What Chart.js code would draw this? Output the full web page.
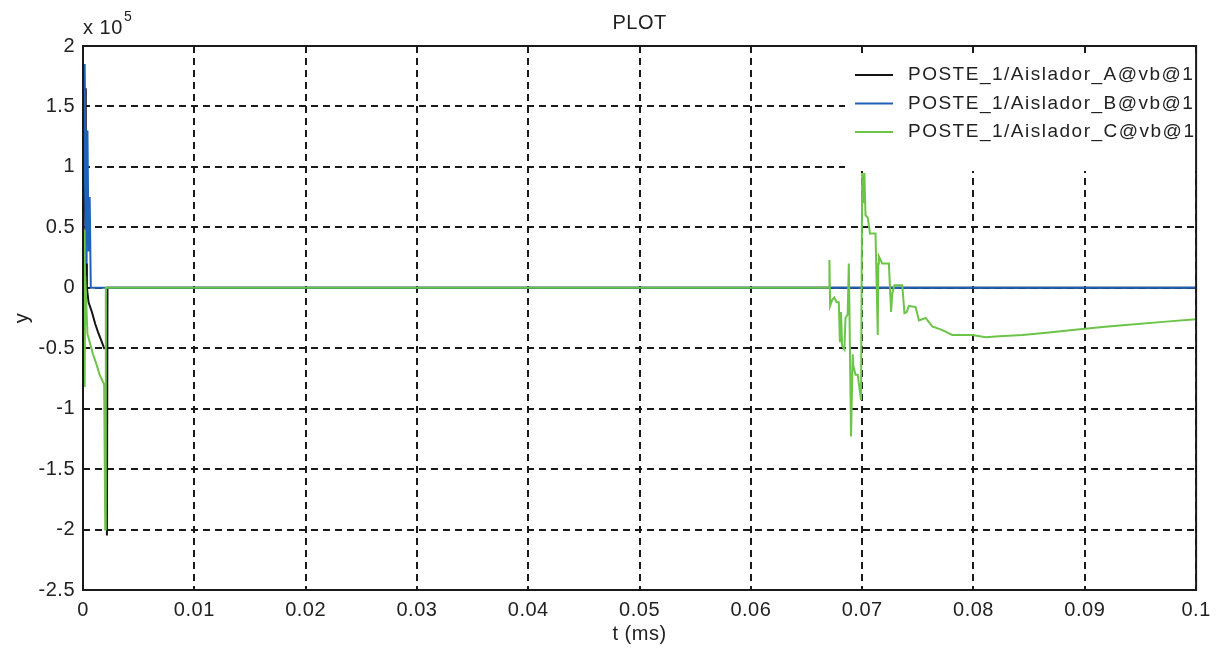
<!DOCTYPE html>
<html>
<head>
<meta charset="utf-8">
<script src="https://cdn.jsdelivr.net/npm/chart.js@4/dist/chart.umd.min.js"></script>
<style>
html, body { margin:0; padding:0; background:#fff; }
canvas { display:block; }
</style>
</head>
<body>
<canvas id="grafico" width="1218" height="655"></canvas>
<script>

/* ============================= */
/* DATOS */
/* ============================= */

const labelsSeries = ["POSTE_1/Aislador_A@vb@1", "POSTE_1/Aislador_B@vb@1", "POSTE_1/Aislador_C@vb@1"];
const coloresSeries = ["#141414", "#1f62b8", "#6cc448"];

const xTickLabels = ["0","0.01","0.02","0.03","0.04","0.05","0.06","0.07","0.08","0.09","0.1"];
const yTickLabels = ["-2.5","-2","-1.5","-1","-0.5","0","0.5","1","1.5","2"];

// serie A (x 10^5)
const tA = [0, 0.0001, 0.0002, 0.00025, 0.0003, 0.00035, 0.0005, 0.0008, 0.0011, 0.0014, 0.0017, 0.0019, 0.0021, 0.00215, 0.0022, 0.1];
const vA = [0, 0.8, 1.65, 0.75, 0.2, 0, -0.12, -0.2, -0.3, -0.38, -0.45, -0.5, -0.5, -2.05, 0, 0];

// serie B
const tB = [0, 0.00015, 0.0003, 0.0004, 0.0005, 0.0006, 0.0007, 0.1];
const vB = [0.2, 1.85, 0.2, 1.3, 0.3, 0.75, 0, 0];

// serie C
const tC = [0, 0.0001, 0.00015, 0.0002, 0.0004, 0.0006, 0.0009, 0.0012, 0.0015, 0.0019, 0.002, 0.00205,
  0.06705, 0.06706, 0.06712, 0.0673, 0.0675, 0.0677, 0.0679, 0.068, 0.0681, 0.0682, 0.0684, 0.0685, 0.0687,
  0.0688, 0.06885, 0.0689, 0.069, 0.06915, 0.0692, 0.0694, 0.0696, 0.0699, 0.07, 0.07015, 0.0702, 0.0703,
  0.0705, 0.0707, 0.0712, 0.0714, 0.07145, 0.0715, 0.0718, 0.0724, 0.0726, 0.0727, 0.0729, 0.0736, 0.0738,
  0.074, 0.0742, 0.0748, 0.0751, 0.0757, 0.0763, 0.0772, 0.0781, 0.0799, 0.0811, 0.0823, 0.0844, 0.0868,
  0.0889, 0.0916, 0.0934, 0.0973, 0.1];
const vC = [0.15, 0.48, -0.82, 0.1, -0.38, -0.45, -0.55, -0.63, -0.72, -0.8, -2.0, 0,
  0, 0.23, -0.15, -0.1, -0.08, -0.12, -0.12, -0.45, -0.2, -0.48, -0.51, -0.25, -0.22,
  0.2, -0.13, -0.13, -1.23, -0.55, -0.64, -0.72, -0.72, -0.93, 0.95, 0.7, 0.95, 0.6,
  0.58, 0.45, 0.45, -0.39, 0.2, 0.26, 0.2, 0.2, -0.2, -0.05, 0.02, 0.02, -0.21,
  -0.2, -0.15, -0.16, -0.27, -0.25, -0.32, -0.35, -0.39, -0.39, -0.41, -0.4, -0.39, -0.37,
  -0.35, -0.325, -0.31, -0.28, -0.26];

function puntos(t, v){
  return t.map((x, i) => ({x: x, y: v[i]}));
}

const FUENTE = "'Liberation Sans', Arial, sans-serif";

/* ============================= */
/* TEXTOS, LEYENDA Y MARCO */
/* ============================= */

const marcoPlot = {
  id: "marcoPlot",
  beforeDraw(chart){
    chart.ctx.letterSpacing = "0.5px";
  },
  afterDatasetsDraw(chart){
    const ctx = chart.ctx;
    const area = chart.chartArea;
    ctx.save();
    // leyenda
    const lx = 845, ly = 57;
    ctx.fillStyle = "#fff";
    ctx.fillRect(lx, ly, area.right - lx, 114);
    ctx.font = "19px " + FUENTE;
    ctx.letterSpacing = "1.5px";
    ctx.textBaseline = "middle";
    ctx.textAlign = "left";
    chart.data.datasets.forEach((ds, i) => {
      const y = 75 + i * 28.5;
      ctx.strokeStyle = ds.borderColor;
      ctx.lineWidth = 2;
      ctx.beginPath();
      ctx.moveTo(855, y);
      ctx.lineTo(893, y);
      ctx.stroke();
      ctx.fillStyle = "#222";
      ctx.fillText(ds.label, 908, y);
    });
    ctx.restore();
  },
  afterDraw(chart){
    const ctx = chart.ctx;
    const area = chart.chartArea;
    ctx.save();
    ctx.fillStyle = "#fff";
    ctx.fillRect(area.right + 1, 50, 30, 130);
    ctx.strokeStyle = "#1a1a1a";
    ctx.lineWidth = 2;
    ctx.strokeRect(area.left, area.top, area.right - area.left, area.bottom - area.top);

    ctx.fillStyle = "#222";
    ctx.font = "20px " + FUENTE;
    ctx.textAlign = "center";
    ctx.textBaseline = "middle";
    ctx.fillText("PLOT", (area.left + area.right) / 2, 23);
    ctx.fillText("t (ms)", (area.left + area.right) / 2, 634);

    ctx.textAlign = "left";
    ctx.fillText("x 10", 83, 28);
    ctx.font = "14px " + FUENTE;
    ctx.fillText("5", 124, 17);

    ctx.font = "20px " + FUENTE;
    ctx.translate(22, (area.top + area.bottom) / 2);
    ctx.rotate(-Math.PI / 2);
    ctx.textAlign = "center";
    ctx.fillText("y", 0, 0);
    ctx.restore();
  }
};

/* ============================= */
/* GRAFICO */
/* ============================= */

new Chart(document.getElementById("grafico"), {
  type: "line",
  data: {
    datasets: [
      { label: labelsSeries[0], data: puntos(tA, vA), borderColor: coloresSeries[0], order: 3 },
      { label: labelsSeries[1], data: puntos(tB, vB), borderColor: coloresSeries[1], order: 2 },
      { label: labelsSeries[2], data: puntos(tC, vC), borderColor: coloresSeries[2], order: 1 }
    ]
  },
  options: {
    responsive: false,
    animation: false,
    events: [],
    layout: { padding: { top: 46, right: 21, left: 0, bottom: 0 } },
    elements: {
      point: { radius: 0 },
      line: { borderWidth: 2, tension: 0 }
    },
    plugins: {
      legend: { display: false },
      title: { display: false },
      tooltip: { enabled: false }
    },
    scales: {
      x: {
        type: "linear",
        min: 0,
        max: 0.1,
        afterFit(scale){ scale.height = 65; },
        afterBuildTicks(scale){
          scale.ticks = xTickLabels.map(v => ({ value: parseFloat(v) }));
        },
        ticks: {
          padding: 8,
          maxRotation: 0,
          autoSkip: false,
          color: "#222",
          font: { family: FUENTE, size: 20 },
          callback: (v, i) => xTickLabels[i]
        },
        grid: { color: "#1a1a1a", lineWidth: 2, drawTicks: false },
        border: { display: false, dash: [7, 5] }
      },
      y: {
        min: -2.5,
        max: 2,
        afterFit(scale){ scale.width = 83; },
        afterBuildTicks(scale){
          scale.ticks = yTickLabels.map(v => ({ value: parseFloat(v) }));
        },
        ticks: {
          padding: 8,
          autoSkip: false,
          color: "#222",
          font: { family: FUENTE, size: 20 },
          callback: (v, i) => yTickLabels[i]
        },
        grid: { color: "#1a1a1a", lineWidth: 2, drawTicks: false },
        border: { display: false, dash: [7, 5] }
      }
    }
  },
  plugins: [marcoPlot]
});

</script>
</body>
</html>
